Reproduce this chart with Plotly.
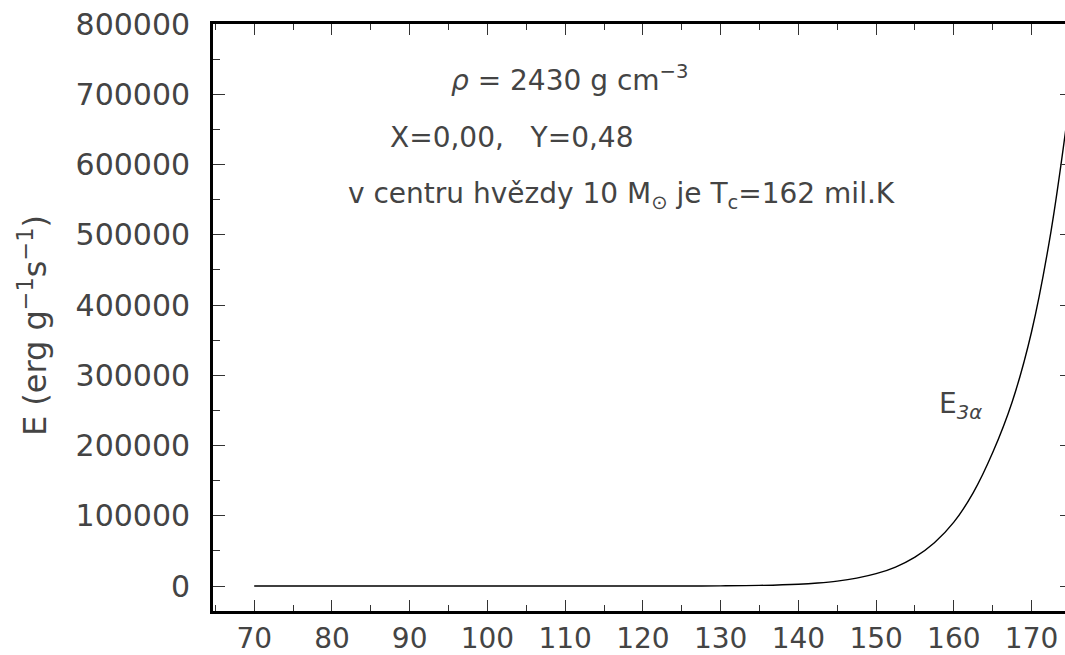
import plotly.graph_objects as go

# Data: temperature (million K) and triple-alpha energy rate
T_mil_K = [70, 80, 90, 100, 110, 120, 125, 130, 135, 140, 142.5, 145, 147.5, 150,
           152.5, 155, 157.5, 160, 162.5, 165, 167.5, 170, 172.5, 175]
E_3alpha = [0, 0, 0, 0, 0, 20, 80, 290, 930, 2650, 4390, 7090, 11300, 17600,
            27100, 41200, 61600, 90900, 133000, 190000, 262000, 362000, 505000, 700000]

x_ticks = [70, 80, 90, 100, 110, 120, 130, 140, 150, 160, 170]
x_labels = ["70", "80", "90", "100", "110", "120", "130", "140", "150", "160", "170"]
y_ticks = [0, 100000, 200000, 300000, 400000, 500000, 600000, 700000, 800000]
y_labels = ["0", "100000", "200000", "300000", "400000", "500000", "600000", "700000", "800000"]

FONT = "DejaVu Sans"
TXT = "#444444"

fig = go.Figure()
fig.add_trace(go.Scatter(x=T_mil_K, y=E_3alpha, mode="lines",
                         line=dict(color="black", width=1.4, shape="spline", smoothing=1.0),
                         showlegend=False, hoverinfo="skip"))
# empty trace so that the right-hand tick axis gets drawn
fig.add_trace(go.Scatter(x=[], y=[], yaxis="y2", showlegend=False, hoverinfo="skip"))

fig.update_layout(
    width=1065, height=655,
    margin=dict(l=213, r=0, t=24, b=44, autoexpand=False),
    paper_bgcolor="white", plot_bgcolor="white",
    font=dict(family=FONT, color=TXT, size=30),
    xaxis=dict(range=[64.7, 174.3], tickvals=x_ticks, ticktext=x_labels, ticks="inside",
               ticklen=11, tickwidth=1.4, tickcolor="#333", showline=True, linewidth=2.8,
               linecolor="black", mirror="ticks", showgrid=False, zeroline=False,
               ticklabelstandoff=0, automargin=False,
               tickfont=dict(family=FONT, size=28, color=TXT),
               minor=dict(dtick=5, tick0=0, ticks="inside", ticklen=6, tickwidth=1.2,
                          tickcolor="#333", showgrid=False)),
    yaxis=dict(range=[-35500, 800000], tickvals=y_ticks, ticktext=y_labels, ticks="inside",
               ticklen=12, tickwidth=1.4, tickcolor="#333", showline=True, linewidth=2.8,
               linecolor="black", showgrid=False, zeroline=False, ticklabelstandoff=14,
               automargin=False,
               tickfont=dict(family=FONT, size=30, color=TXT),
               minor=dict(dtick=50000, tick0=0, ticks="inside", ticklen=7, tickwidth=1.2,
                          tickcolor="#333", showgrid=False)),
    yaxis2=dict(overlaying="y", side="right", range=[-35500, 800000], tickvals=y_ticks,
                ticks="inside", ticklen=5, tickwidth=1.4, tickcolor="#333", automargin=False,
                showticklabels=False, showline=False, showgrid=False, zeroline=False),
)

ann_font = dict(family=FONT, size=28, color=TXT)
fig.add_annotation(x=110.6, y=722600, text="<i>ρ</i> = 2430 g cm<sup>−3</sup>", showarrow=False,
                   xanchor="center", yanchor="middle", font=ann_font)
fig.add_annotation(x=103.1, y=638700, text="X=0,00,   Y=0,48", showarrow=False,
                   xanchor="center", yanchor="middle", font=ann_font)
fig.add_annotation(x=117.3, y=556200,
                   text="v centru hvězdy 10 M<sub>⊙</sub> je T<sub>c</sub>=162 mil.K",
                   showarrow=False, xanchor="center", yanchor="middle", font=ann_font)
fig.add_annotation(x=160.9, y=257500, text="E<sub><i>3α</i></sub>", showarrow=False,
                   xanchor="center", yanchor="middle", font=ann_font)
fig.add_annotation(xref="paper", yref="paper", x=-0.212, y=0.486,
                   text="E (erg g<sup>−1</sup>s<sup>−1</sup>)", textangle=-90, showarrow=False,
                   xanchor="center", yanchor="middle",
                   font=dict(family=FONT, size=32, color=TXT))

# remove the default page margin / scrollbars so the 1065x655 figure fills the window exactly
fig.write_html("out.html", config={"displayModeBar": False},
               post_script="document.body.style.margin='0';document.body.style.overflow='hidden';")
